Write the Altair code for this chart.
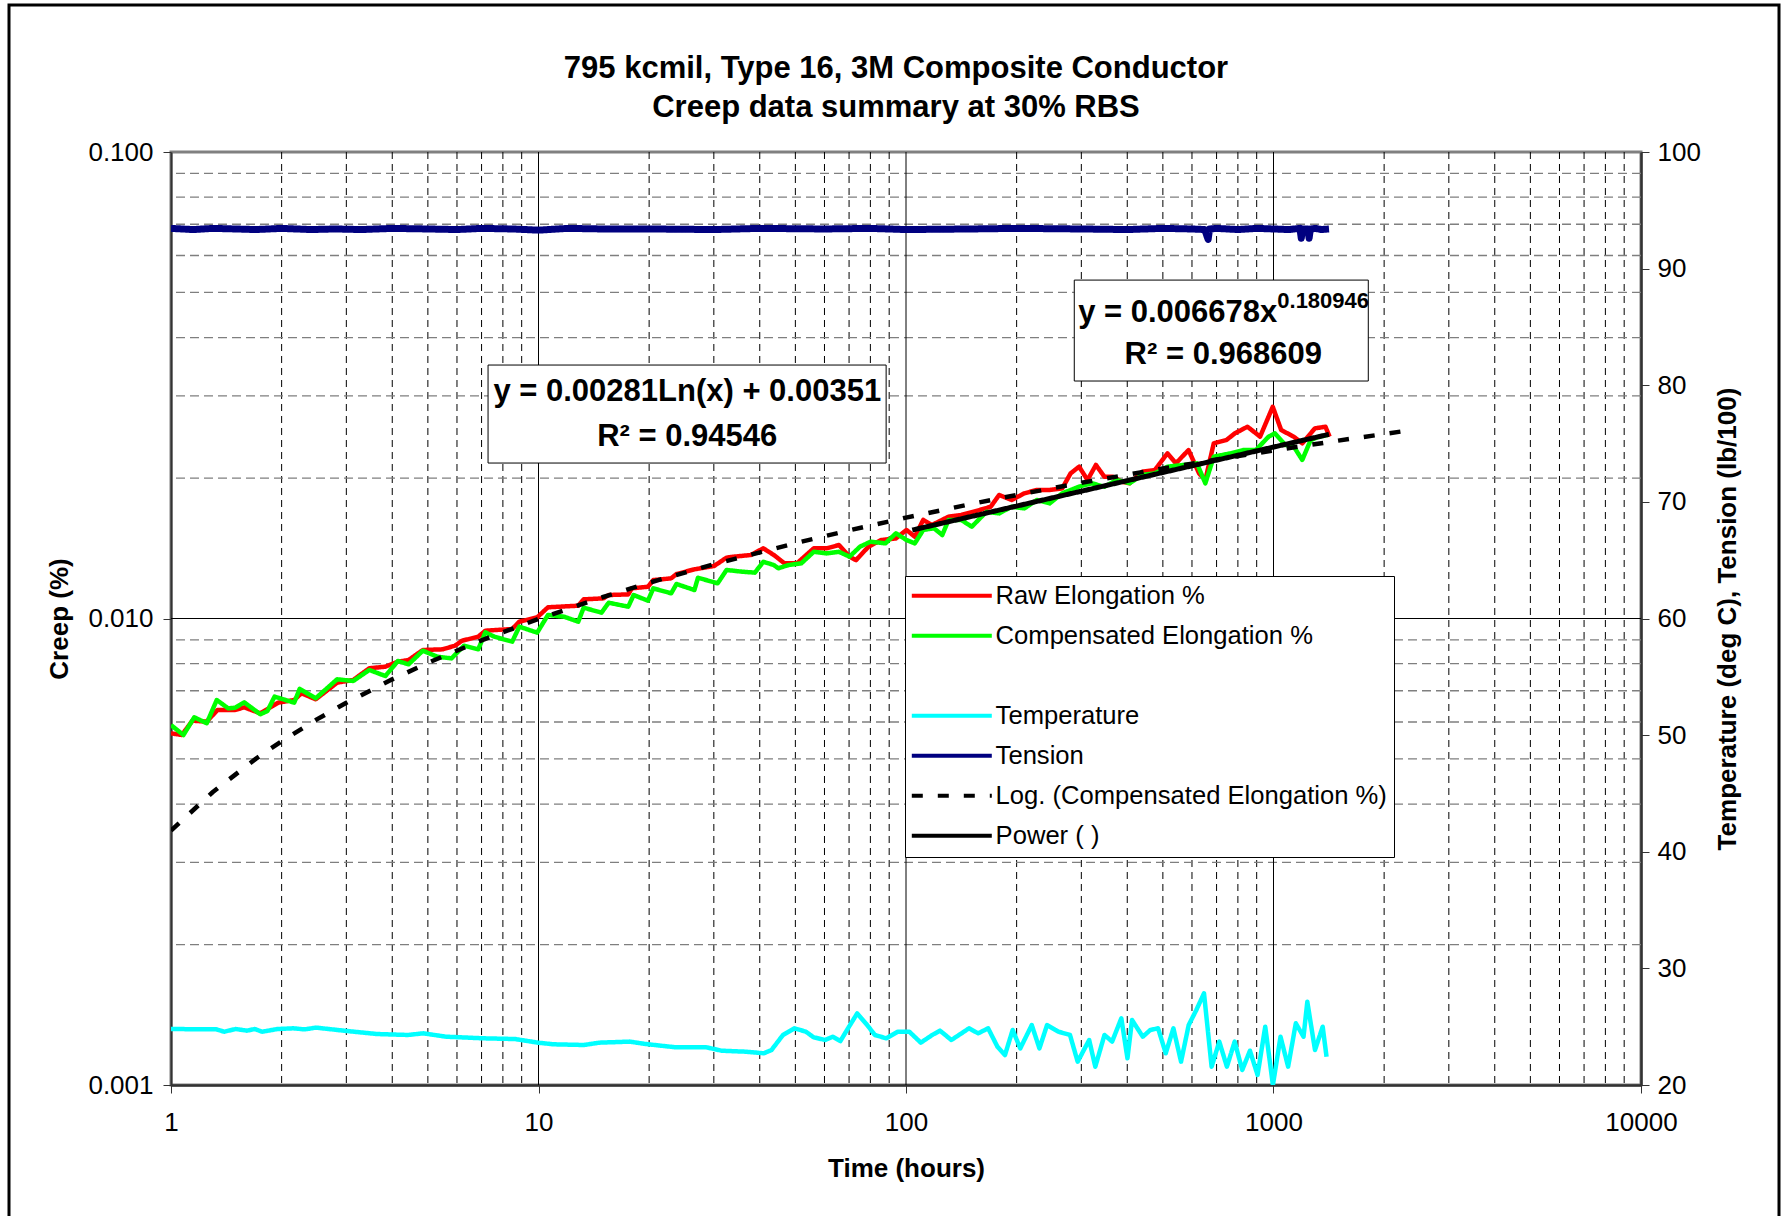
import math
import altair as alt
import pandas as pd

FONT = "Liberation Sans"

# ---------------- data ----------------
raw_hours = [1.00, 1.070, 1.144, 1.251, 1.338, 1.496, 1.582, 1.750, 1.957, 2.164, 2.264, 2.476, 2.832,
             3.132, 3.464, 3.831, 4.143, 4.430, 4.845, 5.481, 5.926, 6.199, 6.855, 7.168, 8.481, 8.868,
             9.918, 10.61, 12.83, 13.27, 15.01, 15.52, 17.55, 17.95, 19.85, 20.53, 22.96, 23.74, 26.56,
             30.04, 32.48, 34.0, 37.8, 40.9, 43.7, 46.7, 50.5, 56.1, 60.8, 65.7, 70.2, 73.1, 79.1, 85.6,
             93.9, 100.3, 105.7, 111.4, 117.5, 130.6, 141.3, 152.9, 170.0, 179.2, 193.9, 209.9, 227.2,
             245.9, 266.1, 280.5, 295.8, 311.8, 328.7, 346.5, 365.3, 385.0, 405.9, 439.3, 475.5, 514.6,
             542.6, 587.2, 627.2, 652.5, 687.8, 744.6, 785.0, 849.6, 919.4, 995.3, 1049.3, 1135.6,
             1197.4, 1296.1, 1384.6, 1421.5]
raw_creep = [0.005674, 0.005627, 0.006039, 0.006009, 0.006367, 0.006367, 0.006451, 0.006262, 0.006600,
             0.006689, 0.006914, 0.006711, 0.007285, 0.007383, 0.007821, 0.007884, 0.008079, 0.008147,
             0.008561, 0.008588, 0.008744, 0.008963, 0.009141, 0.009417, 0.009495, 0.009845, 0.010058,
             0.010568, 0.010653, 0.010992, 0.011045, 0.011228, 0.011264, 0.011604, 0.011698, 0.012090,
             0.012191, 0.012455, 0.012747, 0.012957, 0.013503, 0.01357, 0.01368, 0.01414, 0.01368,
             0.01313, 0.01313, 0.01414, 0.01414, 0.01437, 0.01357, 0.01334, 0.01426, 0.01473, 0.01485,
             0.01548, 0.01497, 0.01627, 0.01586, 0.01653, 0.01667, 0.01694, 0.01736, 0.01840, 0.01795,
             0.01855, 0.01886, 0.01886, 0.01901, 0.02047, 0.02116, 0.01981, 0.02134, 0.02014, 0.02014,
             0.01965, 0.01949, 0.02064, 0.02081, 0.02260, 0.02151, 0.02297, 0.02047, 0.01981, 0.02374,
             0.02413, 0.02494, 0.02577, 0.02453, 0.02844, 0.02535, 0.02453, 0.02374, 0.02556, 0.02577,
             0.02453]

comp_hours = [1.00, 1.081, 1.157, 1.251, 1.332, 1.431, 1.496, 1.582, 1.750, 1.830, 1.913, 2.164, 2.239,
              2.476, 2.832, 3.132, 3.464, 3.831, 4.143, 4.430, 4.845, 5.300, 5.797, 6.268, 6.855, 7.168,
              7.582, 8.481, 8.868, 9.918, 10.61, 11.73, 12.83, 13.27, 14.84, 15.52, 17.55, 18.15, 19.85,
              20.53, 22.96, 23.74, 26.56, 27.16, 30.72, 32.48, 35.8, 38.8, 40.9, 43.7, 44.9, 47.9, 51.9,
              56.1, 60.8, 65.7, 70.2, 75.0, 80.1, 87.9, 93.9, 100.3, 105.7, 111.4, 119.1, 125.5, 130.6,
              141.3, 151.0, 165.6, 179.2, 193.9, 209.9, 227.2, 245.9, 266.1, 295.8, 320.2, 346.5, 375.0,
              405.9, 439.3, 475.5, 514.6, 571.9, 619.0, 652.5, 687.8, 764.5, 827.4, 895.6, 969.4, 1008.6,
              1077.3, 1135.6, 1197.4, 1262.3, 1330.9, 1403.0]
comp_creep = [0.005910, 0.005627, 0.006141, 0.005962, 0.006689, 0.006418, 0.006439, 0.006612, 0.006232,
              0.006335, 0.006800, 0.006600, 0.007063, 0.006745, 0.007408, 0.007346, 0.007756, 0.007529,
              0.008107, 0.007975, 0.008531, 0.008282, 0.008213, 0.008744, 0.008588, 0.009340, 0.009141,
              0.008919, 0.009605, 0.009325, 0.010174, 0.010090, 0.009845, 0.010548, 0.010292, 0.010811,
              0.010601, 0.011228, 0.010918, 0.011604, 0.011324, 0.011857, 0.011508, 0.012230, 0.011895,
              0.012706, 0.01260, 0.01254, 0.01323, 0.01302, 0.01281, 0.01302, 0.01313, 0.01390, 0.01379,
              0.01390, 0.01357, 0.01426, 0.01461, 0.01449, 0.01523, 0.01473, 0.01449, 0.01548, 0.01561,
              0.01510, 0.01627, 0.01627, 0.01573, 0.01694, 0.01680, 0.01736, 0.01722, 0.01795, 0.01765,
              0.01855, 0.01917, 0.01949, 0.01917, 0.01981, 0.01949, 0.02031, 0.02047, 0.02116, 0.02134,
              0.02151, 0.01949, 0.02223, 0.02260, 0.02297, 0.02297, 0.02453, 0.02494, 0.02355, 0.02336,
              0.02187, 0.02413, 0.02453, 0.02474]

temp_hours = [1.0, 1.33, 1.395, 1.50, 1.61, 1.69, 1.77, 1.95, 2.15, 2.31, 2.48, 3.01, 3.64, 4.41, 4.86,
              5.61, 7.13, 8.64, 9.97, 10.98, 13.30, 14.63, 17.73, 19.52, 23.64, 28.64, 31.52, 36.39,
              41.04, 43.05, 46.27, 49.72, 53.43, 56.06, 60.25, 63.18, 66.29, 69.54, 73.66, 78.42, 82.27,
              88.40, 94.99, 102.1, 109.7, 117.9, 123.7, 132.9, 139.4, 148.4, 157.2, 167.3, 177.3, 185.9,
              195.1, 204.6, 219.9, 230.7, 242.0, 260.1, 279.4, 293.2, 315.1, 327.4, 346.8, 363.8, 385.4,
              400.5, 412.2, 440.9, 462.4, 485.2, 509.1, 534.1, 560.3, 587.8, 616.6, 647.0, 678.6, 712.0,
              746.8, 784.0, 822.2, 862.8, 905.0, 949.5, 996.3, 1045, 1096, 1150, 1207, 1236, 1297, 1361,
              1394]
temp_vals = [24.80, 24.77, 24.57, 24.80, 24.66, 24.80, 24.57, 24.80, 24.86, 24.77, 24.92, 24.63, 24.37,
             24.29, 24.43, 24.14, 24.00, 23.94, 23.63, 23.49, 23.43, 23.63, 23.72, 23.52, 23.23, 23.23,
             22.94, 22.86, 22.72, 23.00, 24.29, 24.86, 24.57, 24.09, 23.86, 24.14, 23.77, 24.86, 26.14,
             25.14, 24.29, 24.00, 24.57, 24.57, 23.63, 24.29, 24.66, 23.86, 24.29, 24.86, 24.43, 24.86,
             23.29, 22.57, 24.72, 23.14, 25.14, 23.14, 25.14, 24.57, 24.29, 22.00, 23.86, 21.57, 24.29,
             23.72, 25.72, 22.29, 25.57, 24.14, 24.72, 24.86, 22.72, 24.86, 22.00, 25.14, 26.43, 27.86,
             21.57, 23.72, 21.57, 23.72, 21.29, 22.94, 20.86, 25.00, 20.00, 24.14, 21.57, 25.29, 24.14,
             27.14, 23.00, 25.00, 22.43]

tens_hours = [1.0, 1.15, 1.3, 1.5, 1.7, 2.0, 2.4, 2.8, 3.3, 4.0, 5.0, 6.0, 7.0, 8.5, 10, 12, 15, 20, 30,
              40, 60, 80, 100, 150, 200, 300, 400, 500, 600, 650, 664, 670, 700, 800, 900, 1000, 1100,
              1180, 1190, 1200, 1240, 1250, 1260, 1300, 1350, 1416]
tens_vals = [93.45, 93.35, 93.45, 93.40, 93.35, 93.45, 93.35, 93.40, 93.35, 93.45, 93.40, 93.35, 93.45,
             93.40, 93.30, 93.45, 93.40, 93.40, 93.35, 93.45, 93.40, 93.45, 93.35, 93.40, 93.45, 93.40,
             93.35, 93.45, 93.40, 93.35, 92.50, 93.40, 93.45, 93.35, 93.45, 93.40, 93.35, 93.45, 92.60,
             93.40, 93.40, 92.60, 93.40, 93.45, 93.35, 93.40]

# trendline equations printed on the chart
LOG_A, LOG_B = 0.00281, 0.00351       # y = a Ln(x) + b
POW_A, POW_B = 0.006678, 0.180946     # y = a x^b
log_trend_hours = [1, 1.3, 1.7, 2, 2.5, 3, 4, 5, 7, 10, 15, 20, 30, 50, 70, 100, 150, 200, 300, 500,
                   700, 1000, 1500, 2390]
pow_trend_hours = [104, 200, 400, 800, 1416]

x_ticks = [1, 10, 100, 1000, 10000]
y_ticks = [0.001, 0.01, 0.1]
r_ticks = [20, 30, 40, 50, 60, 70, 80, 90, 100]

SERIES = ["Raw Elongation %", "Compensated Elongation %", " ", "Temperature", "Tension",
          "Log. (Compensated Elongation %)", "Power ( )"]
COLORS = ["#FF0000", "#00FF00", "rgba(0,0,0,0)", "#00FFFF", "#000080", "#000000", "#000000"]
DASHES = [[1, 0], [1, 0], [1, 0], [1, 0], [1, 0], [11, 15], [1, 0]]

TITLE_LINE_1 = "795 kcmil, Type 16, 3M Composite Conductor"
TITLE_LINE_2 = "Creep data summary at 30% RBS"

# ---------------- frames ----------------
raw_df = pd.DataFrame({"hours": raw_hours, "creep": raw_creep, "series": SERIES[0]})
comp_df = pd.DataFrame({"hours": comp_hours, "creep": comp_creep, "series": SERIES[1]})
temp_df = pd.DataFrame({"hours": temp_hours, "value": temp_vals, "series": SERIES[3]})
tens_df = pd.DataFrame({"hours": tens_hours, "value": tens_vals, "series": SERIES[4]})
log_df = pd.DataFrame({"hours": log_trend_hours,
                       "creep": [LOG_A * math.log(h) + LOG_B for h in log_trend_hours],
                       "series": SERIES[5]})
pow_df = pd.DataFrame({"hours": pow_trend_hours,
                       "creep": [POW_A * h ** POW_B for h in pow_trend_hours],
                       "series": SERIES[6]})

minor_x = [m * 10 ** k for k in range(4) for m in range(2, 10)]
major_x = [10, 100, 1000]
minor_y = [m * 10.0 ** k for k in (-3, -2) for m in range(2, 10)]
major_y = [0.01]

xscale = alt.Scale(type="log", domain=[1, 10000], nice=False)
yscale = alt.Scale(type="log", domain=[0.001, 0.1], nice=False)
rscale = alt.Scale(domain=[20, 100], nice=False, zero=False)

AX = dict(labelFont=FONT, titleFont=FONT, labelFontSize=26, titleFontSize=26, titleFontWeight="bold",
          labelColor="black", titleColor="black", tickColor="#333333", domainColor="#333333",
          tickSize=8, grid=False, labelFlush=False)
xaxis = alt.Axis(title="Time (hours)", values=x_ticks, format="d", labelPadding=16, titlePadding=20,
                 domainWidth=2.5, **AX)
yaxis = alt.Axis(title="Creep (%)", values=y_ticks, format=".3f", labelPadding=10, titlePadding=15,
                 domainWidth=2, **AX)
raxis = alt.Axis(title="Temperature (deg C), Tension (lb/100)", orient="right", values=r_ticks,
                 format="d", labelPadding=8, titlePadding=14, titleAngle=270, titleBaseline="top",
                 domainWidth=2.5, **AX)

legend = alt.Legend(title=None, orient="none", legendX=734, legendY=424, strokeColor="black",
                    fillColor="white", padding=7, symbolType="M-4,0L4,0", symbolSize=400,
                    symbolStrokeWidth=4, labelFontSize=25.6, labelFont=FONT, labelColor="black",
                    rowPadding=13, symbolOffset=27, labelOffset=31, labelLimit=0)

color = alt.Color("series:N", scale=alt.Scale(domain=SERIES, range=COLORS), legend=legend)
dash = alt.StrokeDash("series:N", scale=alt.Scale(domain=SERIES, range=DASHES), legend=legend)

X = alt.X("hours:Q", scale=xscale, axis=xaxis)
Y = alt.Y("creep:Q", scale=yscale, axis=yaxis)
R = alt.Y("value:Q", scale=rscale, axis=raxis)


def vrules(vals, dashed):
    m = alt.Chart(pd.DataFrame({"hours": vals})).mark_rule(
        color="black", strokeWidth=1, strokeDash=[7, 5] if dashed else [1, 0])
    return m.encode(x=X)


def hrules(vals, dashed):
    m = alt.Chart(pd.DataFrame({"creep": vals})).mark_rule(
        color="#7f7f7f" if dashed else "black", strokeWidth=1.3 if dashed else 1,
        strokeDash=[9, 5] if dashed else [1, 0])
    return m.encode(y=Y)


def line(df, yenc, width):
    return alt.Chart(df).mark_line(strokeWidth=width, clip=True, strokeJoin="round").encode(
        x=X, y=yenc, color=color, strokeDash=dash)


# annotation boxes (data coordinates)
boxes = pd.DataFrame({"x0": [7.29, 287], "x1": [88.3, 1811],
                      "y0": [0.02154, 0.03229], "y1": [0.03494, 0.05314]})
box_layer = alt.Chart(boxes).mark_rect(fill="white", stroke="black", strokeWidth=1).encode(
    x=alt.X("x0:Q", scale=xscale, axis=xaxis), x2="x1:Q",
    y=alt.Y("y0:Q", scale=yscale, axis=yaxis), y2="y1:Q")

ann = pd.DataFrame({
    "text": ["y = 0.00281Ln(x) + 0.00351", "R\u00b2 = 0.94546", "y = 0.006678x", "R\u00b2 = 0.968609"],
    "hours": [25.4, 25.4, 1024, 730],
    "creep": [0.03058, 0.02449, 0.04516, 0.03671],
    "align": ["center", "center", "right", "center"],
})
txt_c = alt.Chart(ann[ann["align"] == "center"]).mark_text(
    font=FONT, fontSize=31, fontWeight="bold", align="center", baseline="middle", color="black"
).encode(x=X, y=Y, text="text:N")
txt_r = alt.Chart(ann[ann["align"] == "right"]).mark_text(
    font=FONT, fontSize=31, fontWeight="bold", align="right", baseline="middle", color="black"
).encode(x=X, y=Y, text="text:N")
sup = alt.Chart(pd.DataFrame({"text": ["0.180946"], "hours": [1024], "creep": [0.04793]})).mark_text(
    font=FONT, fontSize=22, fontWeight="bold", align="left", baseline="middle", color="black"
).encode(x=X, y=Y, text="text:N")


# chart title (drawn as text above the plot area) and outer frame
def title_text(t, ypix):
    return alt.Chart(pd.DataFrame({"text": [t]})).mark_text(
        font=FONT, fontSize=31, fontWeight="bold", align="center", baseline="middle",
        color="black", clip=False
    ).encode(text="text:N", x=alt.value(725), y=alt.value(ypix))


frame = alt.Chart(pd.DataFrame({"a": [0]})).mark_rect(
    fillOpacity=0, stroke="black", strokeWidth=3, clip=False
).encode(x=alt.value(-162), x2=alt.value(1608), y=alt.value(-147), y2=alt.value(1090))

left = alt.layer(
    vrules(minor_x, True), hrules(minor_y, True), vrules(major_x, False), hrules(major_y, False),
    line(raw_df, Y, 4.5), line(comp_df, Y, 4.5), line(log_df, Y, 4.5), line(pow_df, Y, 5),
    box_layer, txt_c, txt_r, sup, frame,
)
right = alt.layer(line(temp_df, R, 4.5), line(tens_df, R, 7))

chart = alt.layer(left, right, title_text(TITLE_LINE_1, -83), title_text(TITLE_LINE_2, -44)
                  ).resolve_scale(y="independent").properties(
    width=1470, height=933,
    autosize=alt.AutoSizeParams(type="none"),
    padding={"left": 171, "top": 152, "right": 151, "bottom": 131},
    background="white",
).configure_view(stroke="#808080", strokeWidth=3)

chart.save("out.html", embed_options={"renderer": "svg", "actions": False})
